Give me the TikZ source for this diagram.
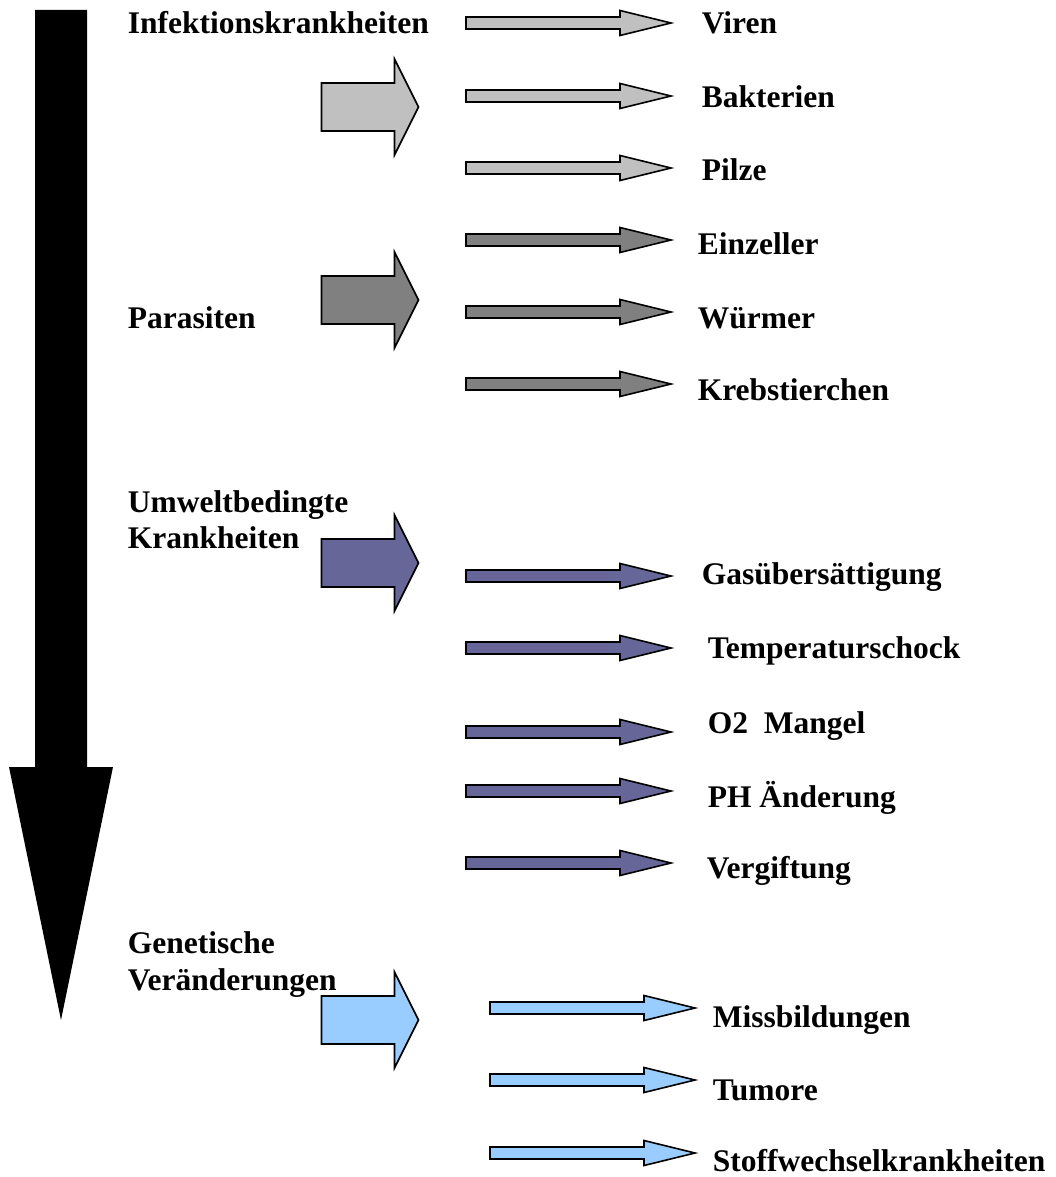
\documentclass[tikz,border=0pt]{standalone}
\usepackage{fontspec}
\setmainfont{Liberation Serif}
\definecolor{infgray}{HTML}{C0C0C0}
\definecolor{pargray}{HTML}{808080}
\definecolor{envpurple}{HTML}{666699}
\definecolor{genblue}{HTML}{99CCFF}
\tikzset{
  lbl/.style={anchor=base west, inner sep=0pt, font=\fontsize{31.5}{37}\selectfont\bfseries},
  thinarr/.pic={\draw [pic actions] (0,-6) -- (154,-6) -- (154,-12.5) -- (205,0) -- (154,12.5) -- (154,6) -- (0,6) -- cycle ;},
  bigarr/.pic={\draw [pic actions] (0,-24) -- (73,-24) -- (73,-48) -- (97,0) -- (73,48) -- (73,24) -- (0,24) -- cycle ;},
}
\begin{document}
\begin{tikzpicture}[x=1pt, y=-1pt, line width=1.6pt, line join=miter]
    \useasboundingbox (0,0) rectangle (1055,1177) ;
    \fill (35,10) -- (87,10) -- (87,767) -- (113,767) -- (61,1020) -- (9,767) -- (35,767) -- cycle ;

    \node [lbl] (infekt) at (127,33.5) {Infektionskrankheiten} ;
    \pic [fill=infgray] at (321.5,107) {bigarr} ;
    \pic [fill=infgray] at (466,23) {thinarr} ;
    \pic [fill=infgray] at (466,96) {thinarr} ;
    \pic [fill=infgray] at (466,168) {thinarr} ;
    \node [lbl] (viren) at (701,33.5) {Viren} ;
    \node [lbl] (bakterien) at (701,107.5) {Bakterien} ;
    \node [lbl] (pilze) at (701,180.5) {Pilze} ;

    \node [lbl] (parasiten) at (127,328.5) {Parasiten} ;
    \pic [fill=pargray] at (321.5,300) {bigarr} ;
    \pic [fill=pargray] at (466,240) {thinarr} ;
    \pic [fill=pargray] at (466,312) {thinarr} ;
    \pic [fill=pargray] at (466,384) {thinarr} ;
    \node [lbl] (einzeller) at (697,254.5) {Einzeller} ;
    \node [lbl] (wuermer) at (697,328.5) {Würmer} ;
    \node [lbl] (krebs) at (697,400.5) {Krebstierchen} ;

    \node [lbl] (umwelt) at (127,512.5) {Umweltbedingte} ;
    \node [lbl] (umweltb) at ([yshift=-36pt]umwelt.base west) {Krankheiten} ;
    \pic [fill=envpurple] at (321.5,563) {bigarr} ;
    \pic [fill=envpurple] at (466,576) {thinarr} ;
    \pic [fill=envpurple] at (466,648) {thinarr} ;
    \pic [fill=envpurple] at (466,732) {thinarr} ;
    \pic [fill=envpurple] at (466,791) {thinarr} ;
    \pic [fill=envpurple] at (466,863) {thinarr} ;
    \node [lbl] (gas) at (701,584.5) {Gasübersättigung} ;
    \node [lbl] (temp) at (707,658.5) {Temperaturschock} ;
    \node [lbl] (otwo) at (707,733.5) {O2\ \ Mangel} ;
    \node [lbl] (ph) at (707,807.5) {PH Änderung} ;
    \node [lbl] (gift) at (706,878.5) {Vergiftung} ;

    \node [lbl] (genet) at (127,953.5) {Genetische} ;
    \node [lbl] (genetb) at ([yshift=-37pt]genet.base west) {Veränderungen} ;
    \pic [fill=genblue] at (321.5,1020) {bigarr} ;
    \pic [fill=genblue] at (490,1008) {thinarr} ;
    \pic [fill=genblue] at (490,1080) {thinarr} ;
    \pic [fill=genblue] at (490,1153) {thinarr} ;
    \node [lbl] (missb) at (712,1027.5) {Missbildungen} ;
    \node [lbl] (tumore) at (712,1100.5) {Tumore} ;
    \node [lbl] (stoffw) at (712,1171) {Stoffwechselkrankheiten} ;
\end{tikzpicture}
\end{document}
